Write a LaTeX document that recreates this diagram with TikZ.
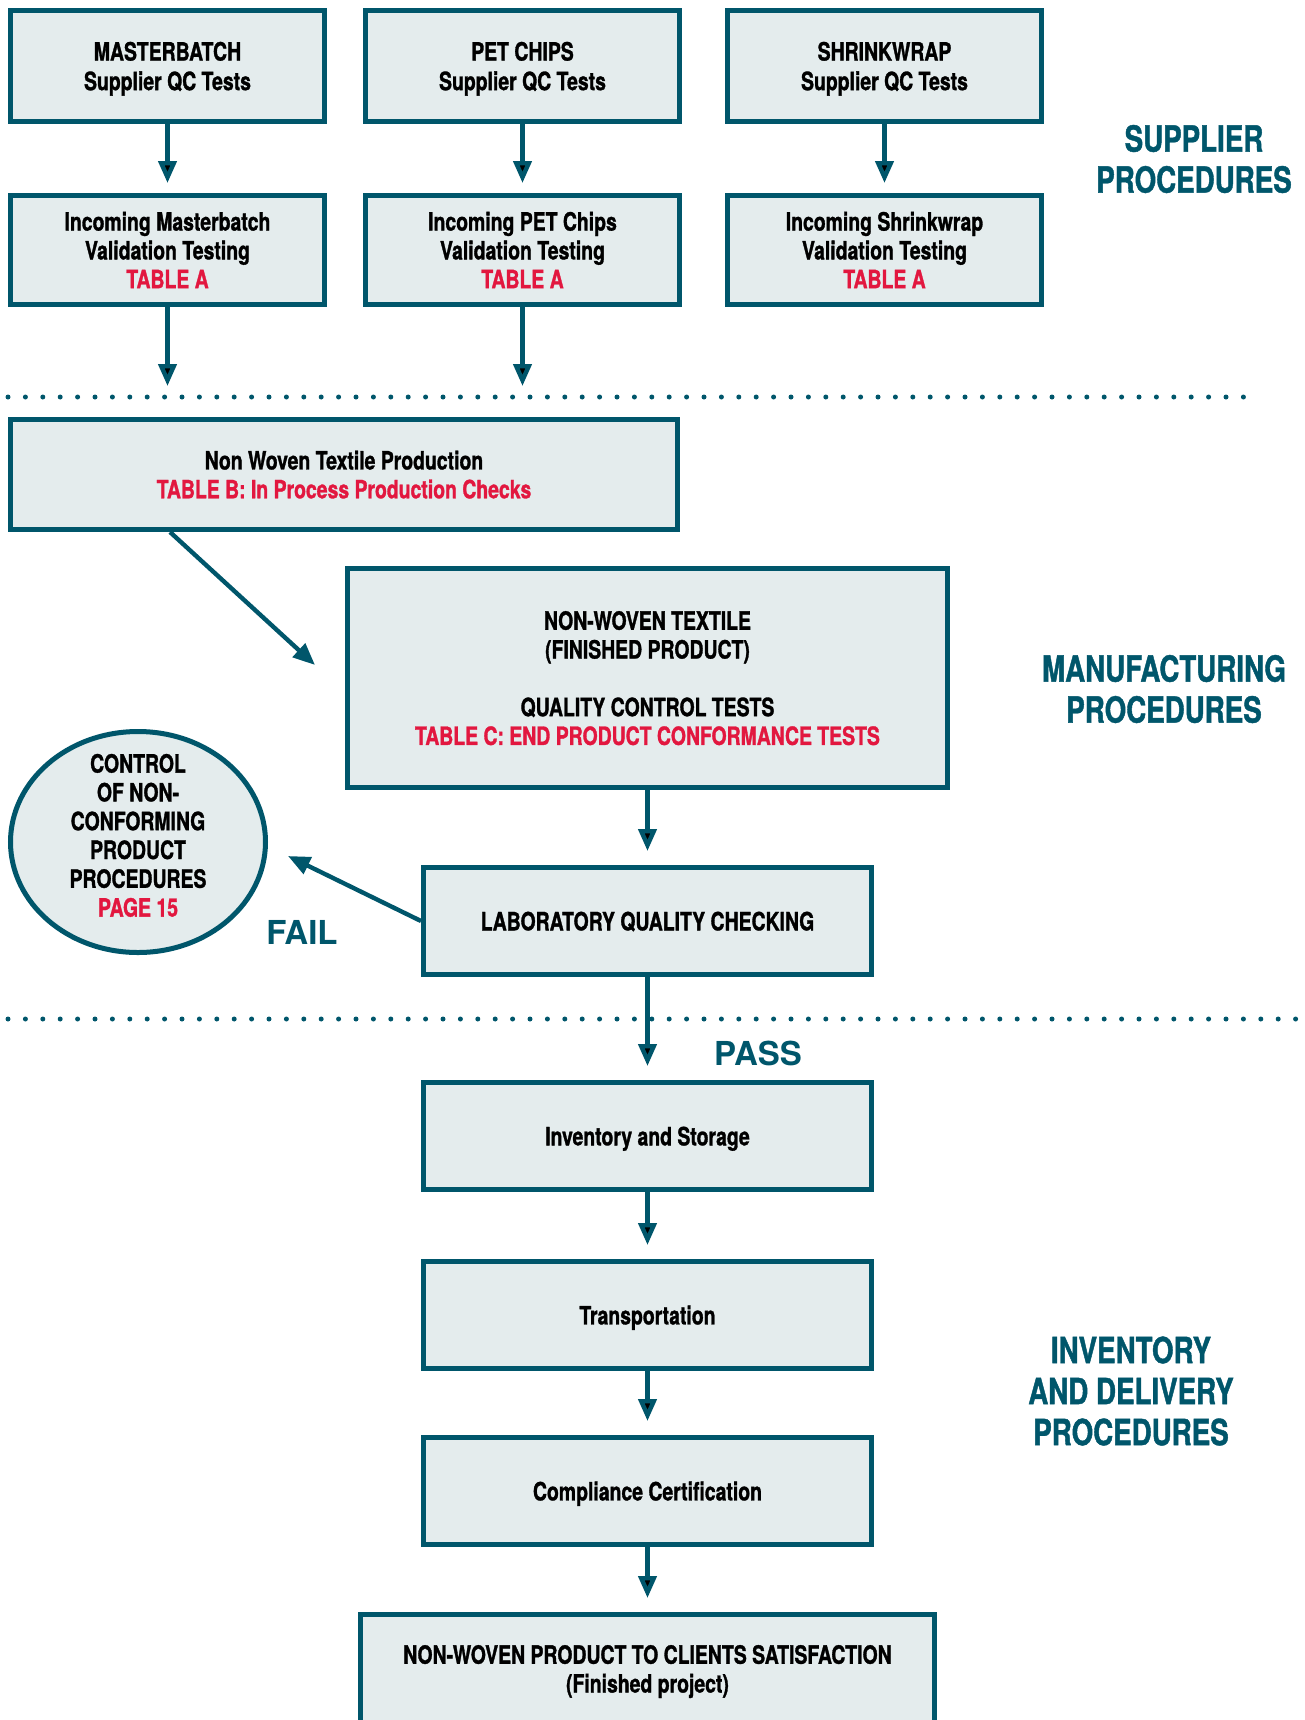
\documentclass[tikz,border=0pt]{standalone}
\usepackage{fontspec}
\setmainfont{TeX Gyre Heros}[FakeStretch=0.77, BoldFeatures={FakeBold=1.2}]
\newfontfamily\verdictfont{TeX Gyre Heros}
\usetikzlibrary{positioning,arrows.meta,shapes.geometric}

\definecolor{qcteal}{HTML}{00566B}
\definecolor{qcfill}{HTML}{E4ECED}
\definecolor{qcred}{HTML}{E2173F}

\newcommand{\tbl}[1]{\textcolor{qcred}{#1}}

\begin{document}
\begin{tikzpicture}[
    x = 0.5pt,
    y = -0.5pt,
    flow/.style={-{Triangle[length=11pt,width=9pt]}, line width=2.2pt, draw=qcteal, shorten >=7pt},
    box/.style={rectangle, draw=qcteal, fill=qcfill, line width=2.5pt, align=center, text=black, text depth=0pt, font=\bfseries\fontsize{12.6}{14.4}\selectfont},
    supbox/.style={box, minimum width=157pt, minimum height=54.5pt},
    stepbox/.style={box, minimum width=224pt, minimum height=53.5pt},
    ncr/.style={ellipse, draw=qcteal, fill=qcfill, line width=2.5pt, minimum width=127.5pt, minimum height=110.5pt},
    ncrtext/.style={align=center, text=black, yshift=3.3pt, font=\bfseries\fontsize{12.6}{14.4}\selectfont},
    stage/.style={align=center, text=qcteal, font=\bfseries\fontsize{18}{20.5}\selectfont},
    verdict/.style={text=qcteal, font=\verdictfont\bfseries\fontsize{16.5}{18}\selectfont},
    divider/.style={draw=qcteal, line width=2.5pt, line cap=round, dash pattern=on 0pt off 8.7pt}
]
\useasboundingbox (0,0) rectangle (1305,1720);
\clip (0,0) rectangle (1305,1720);

% Supplier QC tests
\node[supbox, minimum height=55.5pt] (mb) at (167.5,66) {MASTERBATCH\\[0.4pt]Supplier QC Tests};
\node[supbox, minimum height=55.5pt] (pet) at (522.5,66) {PET CHIPS\\[0.4pt]Supplier QC Tests};
\node[supbox, minimum height=55.5pt] (shrink) at (884.5,66) {SHRINKWRAP\\[0.4pt]Supplier QC Tests};

% Incoming validation
\node[supbox] (mbinc) [below=34.5pt of mb] {Incoming Masterbatch\\Validation Testing\\\tbl{TABLE A}};
\node[supbox] (petinc) [below=34.5pt of pet] {Incoming PET Chips\\Validation Testing\\\tbl{TABLE A}};
\node[supbox] (shrinkinc) [below=34.5pt of shrink] {Incoming Shrinkwrap\\Validation Testing\\\tbl{TABLE A}};

% Manufacturing
\node[box, minimum width=333.5pt, minimum height=55pt] (prod) at (344,474.5) {Non Woven Textile Production\\\tbl{TABLE B: In Process Production Checks}};
\node[box, minimum width=300pt, minimum height=109.5pt] (nwt) at (647.5,678) {NON-WOVEN TEXTILE\\(FINISHED PRODUCT)\\[14.4pt]QUALITY CONTROL TESTS\\\tbl{TABLE C: END PRODUCT CONFORMANCE TESTS}};
\node[stepbox] (lab) [below=37.5pt of nwt] {LABORATORY QUALITY CHECKING};
\node[ncr, label={[ncrtext]center:CONTROL\\OF NON-\\CONFORMING\\PRODUCT\\PROCEDURES\\\tbl{PAGE 15}}] (ncp) at (138,842) {};

% Inventory and delivery
\node[stepbox] (inv) [below=51.5pt of lab] {Inventory and Storage};
\node[stepbox] (trans) [below=33.5pt of inv] {Transportation};
\node[stepbox] (comp) [below=32pt of trans] {Compliance Certification};
\node[box, text depth=2.7pt, minimum width=287pt, minimum height=57pt] (final) [below=32.5pt of comp] {NON-WOVEN PRODUCT TO CLIENTS SATISFACTION\\(Finished project)};

% Section labels
\node[stage] (suplabel) at (1194,159) {SUPPLIER\\PROCEDURES};
\node[stage] (manlabel) at (1164,689) {MANUFACTURING\\PROCEDURES};
\node[stage] (invlabel) at (1131,1391) {INVENTORY\\AND DELIVERY\\PROCEDURES};
\node[verdict] (fail) at (302,932) {FAIL};
\node[verdict] (pass) at (758,1053) {PASS};

% Dividers
\path[divider] (8,397) -- (1258,397);
\path[divider] (8,1019) -- (1300,1019);

\coordinate (diagtip) at (315,665);
\coordinate (failtip) at (288,856);

% Flow arrows
\path[flow, shorten >=5pt]
    (mb) edge (mbinc)
    (pet) edge (petinc)
    (shrink) edge (shrinkinc);
\path[flow, shorten >=15.5pt]
    (mbinc) edge (mbinc |- prod.north)
    (petinc) edge (petinc |- prod.north);
\draw[flow, shorten >=0pt] ([xshift=81pt]prod.south west) -- (diagtip);
\path[flow]
    (nwt) edge (lab)
    (lab) edge (inv)
    (inv) edge (trans)
    (trans) edge (comp)
    (comp) edge (final);
\draw[flow, shorten >=0pt] (lab.west) -- (failtip);

\end{tikzpicture}
\end{document}
